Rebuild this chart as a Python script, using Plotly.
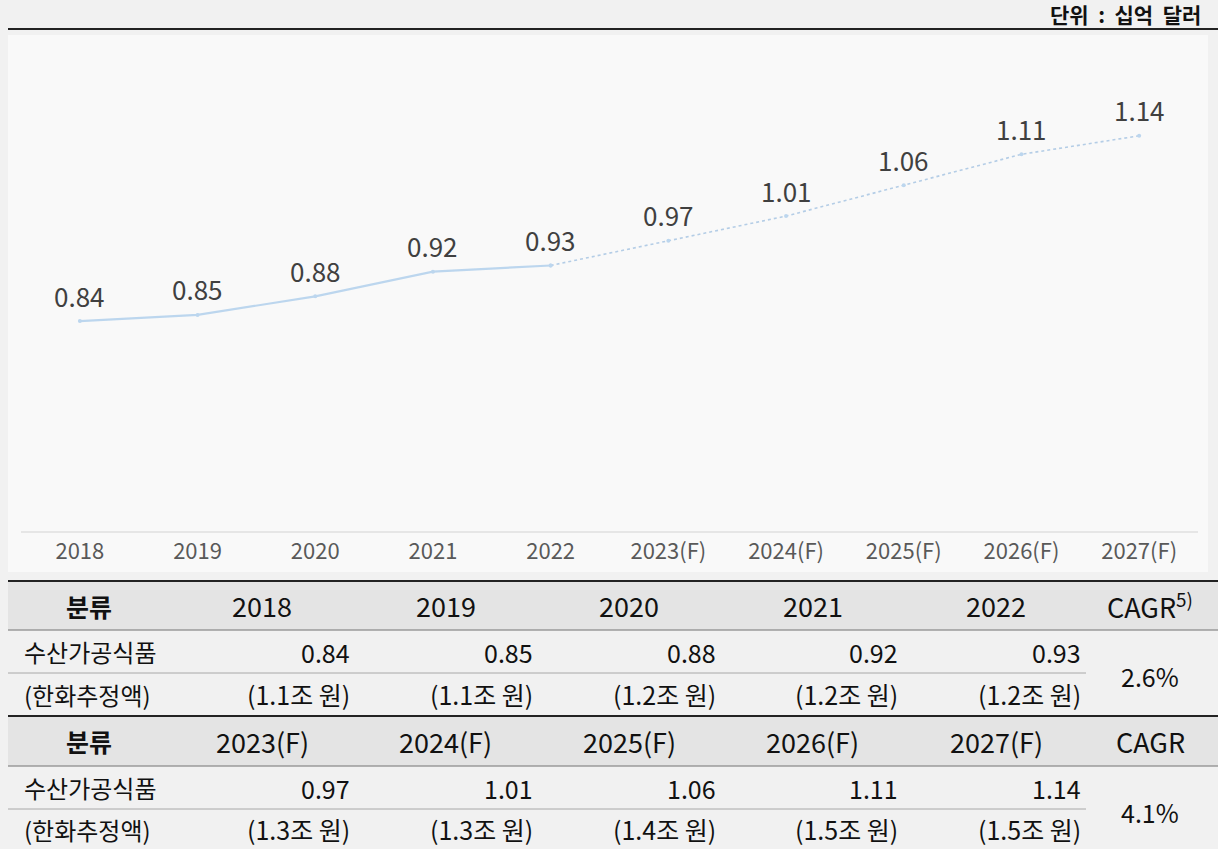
import plotly.graph_objects as go

years = ["2018", "2019", "2020", "2021", "2022", "2023(F)", "2024(F)", "2025(F)", "2026(F)", "2027(F)"]
values = [0.84, 0.85, 0.88, 0.92, 0.93, 0.97, 1.01, 1.06, 1.11, 1.14]
value_labels = ["0.84", "0.85", "0.88", "0.92", "0.93", "0.97", "1.01", "1.06", "1.11", "1.14"]
krw_labels = ["(1.1조 원)", "(1.1조 원)", "(1.2조 원)", "(1.2조 원)", "(1.2조 원)",
              "(1.3조 원)", "(1.3조 원)", "(1.4조 원)", "(1.5조 원)", "(1.5조 원)"]
cagr_headers = ["CAGR<sup>5)</sup>", "CAGR"]
cagr_values = ["2.6%", "4.1%"]
row_label_header = "분류"
row_label_value = "수산가공식품"
row_label_krw = "(한화추정액)"
unit_text = "단위\u00a0 :\u00a0 십억\u00a0 달러"
n_actual = 5

W, H = 1218, 849
ML, MR, MT, MB = 21, 20, 37, 318
PW = W - ML - MR
PH = H - MT - MB
FONT = "Noto Sans CJK KR"

def px(x):
    return (x - ML) / PW

def py(y):
    return (H - MB - y) / PH

line_color = "#bcd6ee"
idx = list(range(len(years)))

fig = go.Figure()
fig.add_trace(go.Scatter(
    x=idx[:n_actual], y=values[:n_actual], mode="lines+markers",
    line=dict(color=line_color, width=2.2), marker=dict(size=4, color=line_color),
    hoverinfo="skip", showlegend=False))
fig.add_trace(go.Scatter(
    x=idx[n_actual - 1:], y=values[n_actual - 1:], mode="lines+markers",
    line=dict(color="#b4cde6", width=1.6, dash="dot"), marker=dict(size=4, color=line_color),
    hoverinfo="skip", showlegend=False))

annotations = []
for i, v, lab in zip(idx, values, value_labels):
    annotations.append(dict(x=i, y=v, xref="x", yref="y", text=lab, showarrow=False, yshift=26,
                            font=dict(family=FONT, size=26, color="#404040")))

shapes = []
shapes.append(dict(type="rect", xref="paper", yref="paper", layer="below",
                   x0=px(8), x1=px(1208), y0=py(572), y1=py(35),
                   fillcolor="#f9f9f9", line=dict(width=0)))
shapes.append(dict(type="line", xref="paper", yref="paper",
                   x0=px(8), x1=px(1218), y0=py(29), y1=py(29),
                   line=dict(color="#222222", width=2)))
annotations.append(dict(xref="paper", yref="paper", x=px(1203), y=py(14), xanchor="right",
                        yanchor="middle", text="<b>" + unit_text + "</b>", showarrow=False,
                        font=dict(family=FONT, size=21, color="#111111")))

TL, TR = 8, 1218
col_head_cx = [262 + 183.6 * i for i in range(5)]
col_val_right = [352 + 182.8 * i for i in range(5)]
cagr_cx = 1150
blocks = [(581, 630, 673, 716), (716, 766, 809, 849)]
for b, (top, hb, mid, bot) in enumerate(blocks):
    shapes.append(dict(type="rect", xref="paper", yref="paper", layer="below",
                       x0=px(TL), x1=px(TR), y0=py(hb), y1=py(top),
                       fillcolor="#e4e4e4", line=dict(width=0)))
    shapes.append(dict(type="line", xref="paper", yref="paper",
                       x0=px(TL), x1=px(TR), y0=py(top), y1=py(top),
                       line=dict(color="#222222", width=2)))
    shapes.append(dict(type="line", xref="paper", yref="paper",
                       x0=px(TL), x1=px(TR), y0=py(hb), y1=py(hb),
                       line=dict(color="#9a9a9a", width=1.5)))
    shapes.append(dict(type="line", xref="paper", yref="paper",
                       x0=px(TL), x1=px(1086), y0=py(mid), y1=py(mid),
                       line=dict(color="#a8a8a8", width=1)))
    hy = (top + hb) / 2
    r1y = (hb + mid) / 2
    r2y = (mid + bot) / 2
    annotations.append(dict(xref="paper", yref="paper", x=px(89), y=py(hy), text="<b>" + row_label_header + "</b>",
                            showarrow=False, xanchor="center", yanchor="middle",
                            font=dict(family=FONT, size=25, color="#111111")))
    annotations.append(dict(xref="paper", yref="paper", x=px(22), y=py(r1y), text=row_label_value,
                            showarrow=False, xanchor="left", yanchor="middle",
                            font=dict(family=FONT, size=24, color="#111111")))
    annotations.append(dict(xref="paper", yref="paper", x=px(22), y=py(r2y), text=row_label_krw,
                            showarrow=False, xanchor="left", yanchor="middle",
                            font=dict(family=FONT, size=24, color="#111111")))
    for i in range(5):
        k = b * 5 + i
        annotations.append(dict(xref="paper", yref="paper", x=px(col_head_cx[i]), y=py(hy), text=years[k],
                                showarrow=False, xanchor="center", yanchor="middle",
                                font=dict(family=FONT, size=27, color="#111111")))
        annotations.append(dict(xref="paper", yref="paper", x=px(col_val_right[i]), y=py(r1y), text=value_labels[k],
                                showarrow=False, xanchor="right", yanchor="middle",
                                font=dict(family=FONT, size=25, color="#111111")))
        annotations.append(dict(xref="paper", yref="paper", x=px(col_val_right[i]), y=py(r2y), text=krw_labels[k],
                                showarrow=False, xanchor="right", yanchor="middle",
                                font=dict(family=FONT, size=25, color="#111111")))
    annotations.append(dict(xref="paper", yref="paper", x=px(cagr_cx), y=py(hy), text=cagr_headers[b],
                            showarrow=False, xanchor="center", yanchor="middle",
                            font=dict(family=FONT, size=27, color="#111111")))
    annotations.append(dict(xref="paper", yref="paper", x=px(cagr_cx), y=py(mid + 3), text=cagr_values[b],
                            showarrow=False, xanchor="center", yanchor="middle",
                            font=dict(family=FONT, size=25, color="#111111")))

fig.update_layout(
    width=W, height=H,
    margin=dict(l=ML, r=MR, t=MT, b=MB),
    paper_bgcolor="#f1f1f1", plot_bgcolor="rgba(0,0,0,0)",
    xaxis=dict(range=[-0.5, len(years) - 0.5], tickmode="array", tickvals=idx, ticktext=years,
               showgrid=False, zeroline=False, showline=True,
               linecolor="#e6e6e6", linewidth=1.5, ticks="", ticklen=0,
               tickfont=dict(family=FONT, size=22, color="#595959")),
    yaxis=dict(range=[0.50, 1.30], visible=False, showgrid=False, zeroline=False),
    shapes=shapes, annotations=annotations,
    font=dict(family=FONT),
)
fig.write_html("out.html", config={"displayModeBar": False},
               post_script="document.body.style.margin='0';document.body.style.background='#f1f1f1';")
